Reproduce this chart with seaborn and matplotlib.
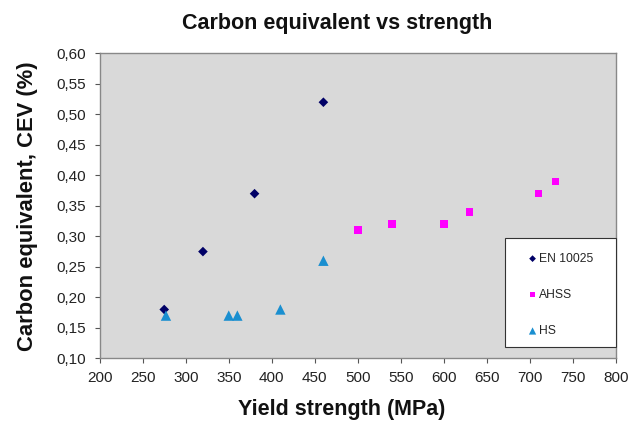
import matplotlib
matplotlib.use("Agg")
import matplotlib.pyplot as plt
import seaborn as sns
import pandas as pd
from matplotlib.ticker import FuncFormatter, MultipleLocator
from matplotlib.patches import Rectangle

# Data
en_x = [275, 320, 380, 460]
en_y = [0.18, 0.275, 0.37, 0.52]
ahss_x = [500, 540, 600, 630, 710, 730]
ahss_y = [0.31, 0.32, 0.32, 0.34, 0.37, 0.39]
hs_x = [277, 350, 360, 410, 460]
hs_y = [0.17, 0.17, 0.17, 0.18, 0.26]
series = ["EN 10025", "AHSS", "HS"]

df = pd.concat([
    pd.DataFrame({"x": en_x, "y": en_y, "s": series[0]}),
    pd.DataFrame({"x": ahss_x, "y": ahss_y, "s": series[1]}),
    pd.DataFrame({"x": hs_x, "y": hs_y, "s": series[2]}),
])

sns.set_theme(style="white")
plt.rcParams['font.family'] = ['Liberation Sans', 'DejaVu Sans']

fig = plt.figure(figsize=(6.33, 4.21), dpi=100)
ax = fig.add_axes([0.1575, 0.149, 0.8155, 0.724])
ax.set_facecolor("#d9d9d9")

palette = {"EN 10025": "#000066", "AHSS": "#ff00ff", "HS": "#1a8fd0"}
markers = {"EN 10025": "D", "AHSS": "s", "HS": "^"}
sizes = {"EN 10025": 24, "AHSS": 30, "HS": 56}
for name in series:
    sub = df[df.s == name]
    sns.scatterplot(data=sub, x="x", y="y", color=palette[name], marker=markers[name],
                    s=sizes[name], edgecolor="none", ax=ax, label=name, zorder=3)

ax.set_xlim(200, 800)
ax.set_ylim(0.10, 0.60)
ax.xaxis.set_major_locator(MultipleLocator(50))
ax.yaxis.set_major_locator(MultipleLocator(0.05))
ax.yaxis.set_major_formatter(FuncFormatter(lambda v, p: f"{v:.2f}".replace(".", ",")))
ax.tick_params(axis="both", which="major", direction="out", length=3.5, width=0.8,
               color="#555555", labelsize=11, labelcolor="#222222")
ax.tick_params(axis="x", pad=5.5)
ax.tick_params(axis="y", pad=6.5)
ax.tick_params(bottom=True, left=True)
for sp in ax.spines.values():
    sp.set_color("#888888")
    sp.set_linewidth(1.0)

ax.set_xlabel("Yield strength (MPa)", fontsize=15.5, fontweight="bold", color="#111111")
ax.set_ylabel("Carbon equivalent, CEV (%)", fontsize=15.8, fontweight="bold", color="#111111")
ax.xaxis.label.set_va("baseline")
ax.xaxis.set_label_coords(0.469, -0.187)
ax.yaxis.set_label_coords(-0.12, 0.5)
fig.text(0.533, 0.945, "Carbon equivalent vs strength", ha="center", va="center",
         fontsize=15.5, fontweight="bold", color="#111111")

# legend box
ax.add_patch(Rectangle((0.785, 0.038), 0.216, 0.355, transform=ax.transAxes,
                       facecolor="white", edgecolor="#333333", linewidth=0.8,
                       zorder=4, clip_on=False))
leg = ax.legend(loc="upper left", bbox_to_anchor=(0.8315, 0.346), borderaxespad=0,
                frameon=False, fontsize=8.7, labelspacing=2.0, handlelength=0.6,
                handletextpad=0.25, borderpad=0, markerscale=0.7)
leg.set_zorder(5)

fig.savefig("out.png", dpi=100)
